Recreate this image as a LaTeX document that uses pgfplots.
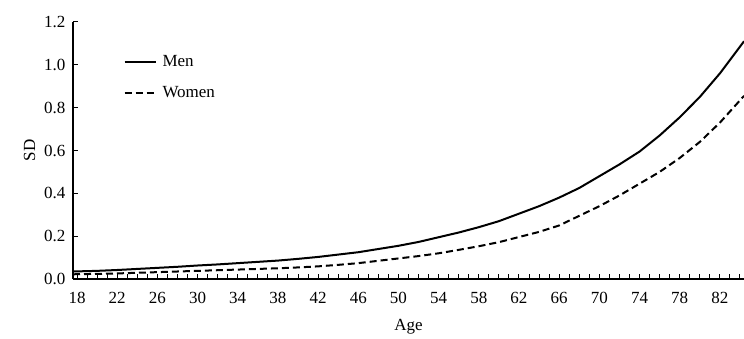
\documentclass[border=0pt]{standalone}
\usepackage{pgfplots}
\pgfplotsset{compat=1.18}
\usepackage{fontspec}
\setmainfont{Liberation Serif}
\begin{document}
\begin{tikzpicture}
\path[use as bounding box] (0,0) rectangle (744pt,339pt);
\begin{axis}[
  at={(73pt,60pt)}, anchor=south west,
  scale only axis, width=671pt, height=257pt,
  xmin=17.6, xmax=84.4, ymin=0, ymax=1.2,
  axis x line*=bottom, axis y line*=left,
  axis line style={line width=1.5pt, -},
  xtick={18,22,...,82}, minor xtick={18,19,...,84},
  ytick={0,0.2,...,1.2},
  tick align=inside,
  major tick length=5pt, minor tick length=5pt,
  tick style={line width=1pt, black},
  yticklabel style={/pgf/number format/fixed, /pgf/number format/fixed zerofill, /pgf/number format/precision=1, xshift=-4pt},
  xticklabel style={yshift=-10pt},
  /pgf/number format/assume math mode=true,
  tick label style={font=\fontsize{17}{19}\selectfont},
  label style={font=\fontsize{17}{19}\selectfont},
  xlabel={Age}, ylabel={SD},
  xlabel style={yshift=-8pt},
  ylabel style={yshift=2pt},
  legend style={draw=none, fill=none, at={(0.075,0.885)}, anchor=north west, font=\fontsize{17}{19}\selectfont, row sep=14pt, inner xsep=0pt},
  legend cell align=left,
  legend image code/.code={\draw[#1] (0pt,0pt) -- (31pt,0pt); \path (35pt,0pt);},
]
\addplot[black, line width=2pt] coordinates {
(17.6,0.035) (20,0.038) (22,0.042) (24,0.047) (26,0.052) (28,0.057) (30,0.063) (32,0.068)
(34,0.074) (36,0.080) (38,0.086) (40,0.094) (42,0.103) (44,0.114) (46,0.125) (48,0.14)
(50,0.155) (52,0.173) (54,0.195) (56,0.217) (58,0.242) (60,0.27) (62,0.305) (64,0.34)
(66,0.38) (68,0.425) (70,0.48) (72,0.535) (74,0.595) (76,0.67) (78,0.755) (80,0.85)
(82,0.96) (84.4,1.11)};
\addlegendentry{Men}
\addplot[black, line width=2pt, dash pattern=on 7pt off 4pt] coordinates {
(17.6,0.022) (20,0.024) (22,0.026) (24,0.029) (26,0.032) (28,0.035) (30,0.038) (32,0.041)
(34,0.044) (36,0.047) (38,0.050) (40,0.054) (42,0.059) (44,0.066) (46,0.074) (48,0.085)
(50,0.096) (52,0.107) (54,0.12) (56,0.136) (58,0.153) (60,0.172) (62,0.196) (64,0.22)
(66,0.25) (68,0.295) (70,0.34) (72,0.39) (74,0.445) (76,0.50) (78,0.565) (80,0.64)
(82,0.73) (84.4,0.855)};
\addlegendentry{Women}
\end{axis}
\end{tikzpicture}
\end{document}
